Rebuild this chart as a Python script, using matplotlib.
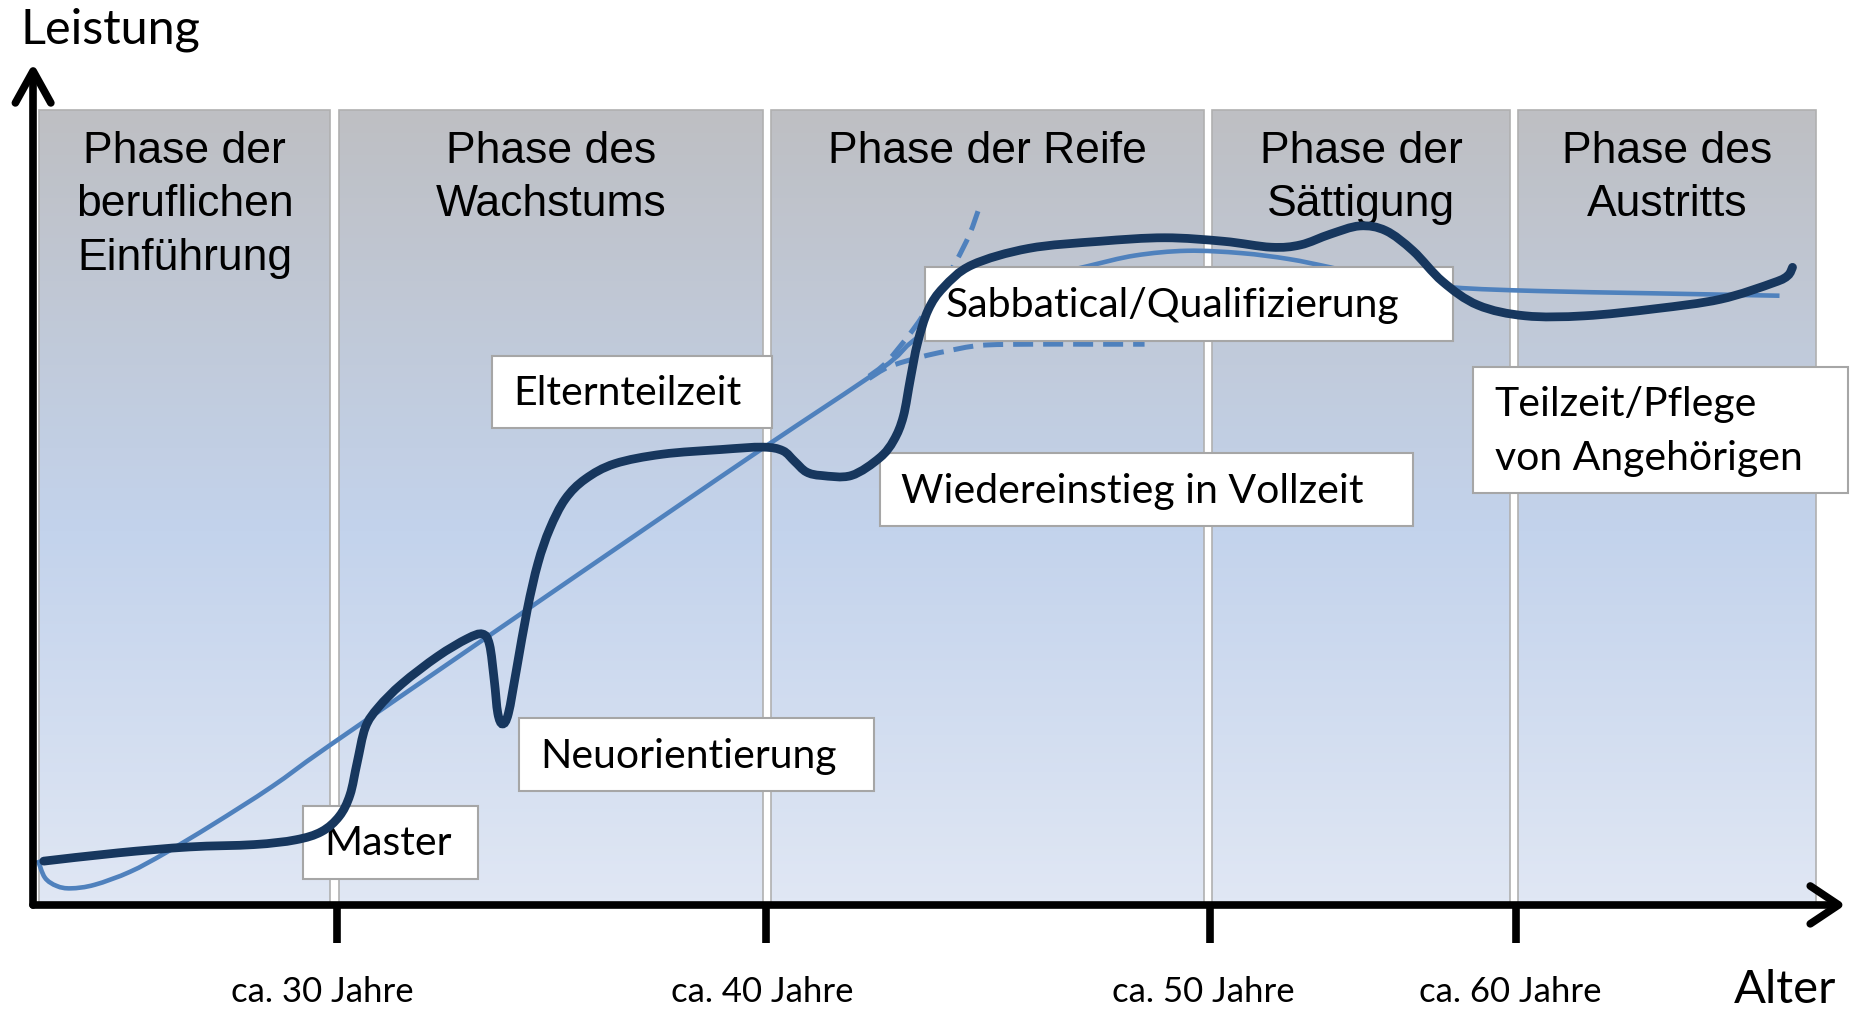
import numpy as np
import matplotlib.pyplot as plt
from matplotlib.path import Path
from matplotlib.patches import PathPatch, Rectangle
from matplotlib.colors import LinearSegmentedColormap

# drawing units: pixels of a 1568 x 853 sketch, y grows downwards
W, H = 1568, 853

# ---------------------------------------------------------------
# Data
# ---------------------------------------------------------------
phase_lines = [
    ["Phase der", "beruflichen", "Einführung"],
    ["Phase des", "Wachstums"],
    ["Phase der Reife"],
    ["Phase der", "Sättigung"],
    ["Phase des", "Austritts"],
]
phase_left = [33, 287, 652, 1025, 1284]
phase_right = [279, 645, 1018, 1277, 1536]

tick_x = [285, 648, 1023, 1282]
tick_labels = ["ca. 30 Jahre", "ca. 40 Jahre", "ca. 50 Jahre", "ca. 60 Jahre"]
tick_label_x = [273, 645, 1018, 1277]

# individual career curve (dark)
career_x = [37, 100, 160, 215, 250, 272, 287, 296, 302, 309, 320, 340, 370,
            395, 408, 414, 418, 421, 425, 430, 437, 446, 455, 465, 478, 495,
            520, 560, 610, 645, 662, 672, 682, 695, 720, 744, 756, 764, 770,
            776, 785, 798, 822, 870, 930, 985, 1035, 1075, 1100, 1125, 1150,
            1172, 1195, 1220, 1250, 1290, 1340, 1400, 1455, 1500, 1512, 1516]
career_y = [728, 721, 716, 714, 710, 703, 690, 672, 645, 615, 598, 578, 555,
            540, 536, 545, 575, 603, 612, 603, 565, 515, 476, 447, 422, 405,
            392, 384, 380, 378, 381, 390, 399, 402, 402, 387, 372, 352, 320,
            290, 262, 243, 224, 210, 204, 201, 204, 209, 207, 198, 191,
            195, 212, 238, 258, 267, 267, 261, 253, 239, 233, 226]

# typical performance curve (light, solid)
trend_x = [32, 38, 48, 60, 80, 110, 140, 180, 230, 279, 420, 560, 648, 745,
           770, 800, 840, 880, 920, 960, 1004, 1050, 1090, 1125, 1170, 1229,
           1300, 1400, 1505]
trend_y = [727, 742, 749, 751, 748, 737, 721, 697, 665, 630, 533, 437, 377,
           312, 290, 268, 248, 235, 225, 216, 212, 214, 219, 226, 236, 243,
           246, 248, 250]

# alternative continuations (dashed)
steep_x = [735, 750, 772, 790, 808, 820, 828]
steep_y = [318, 306, 279, 252, 222, 198, 176]
flat_x = [735, 752, 778, 800, 829, 870, 920, 968]
flat_y = [320, 310, 302, 297, 292, 291, 291, 291]

event_labels = [["Master"], ["Neuorientierung"], ["Elternteilzeit"],
                ["Wiedereinstieg in Vollzeit"], ["Sabbatical/Qualifizierung"],
                ["Teilzeit/Pflege", "von Angehörigen"]]
event_boxes = [(256, 681, 404, 743), (439, 607, 739, 669), (416, 301, 653, 362),
               (744, 383, 1195, 445), (782, 226, 1229, 288), (1246, 310, 1563, 417)]

DARK = "#17375e"
LIGHT = "#4f81bd"
LABEL_FONT = ["Lato", "DejaVu Sans"]


def smooth_path(xs, ys):
    """Catmull-Rom through the points, handed to matplotlib as cubic Beziers."""
    p = np.column_stack([xs, ys]).astype(float)
    p = np.vstack([p[0], p, p[-1]])
    verts = [p[1]]
    codes = [Path.MOVETO]
    for i in range(1, len(p) - 2):
        c1 = p[i] + (p[i + 1] - p[i - 1]) / 6.0
        c2 = p[i + 1] - (p[i + 2] - p[i]) / 6.0
        verts += [c1, c2, p[i + 1]]
        codes += [Path.CURVE4] * 3
    return Path(verts, codes)


fig = plt.figure(figsize=(18.54, 10.09), dpi=100)
ax = fig.add_axes([0, 0, 1, 1])
ax.set_xlim(0, W)
ax.set_ylim(H, 0)
ax.axis("off")

# phase panels with gray -> blue gradient
cmap = LinearSegmentedColormap.from_list(
    "phase", [(0, "#bebfc3"), (0.53, "#c3d3ec"), (1, "#e0e7f4")])
grad = np.linspace(0, 1, 256).reshape(-1, 1)
top, bottom = 93, 763
for x0, x1, lines in zip(phase_left, phase_right, phase_lines):
    ax.imshow(grad, cmap=cmap, extent=(x0, x1, bottom, top), origin="upper",
              aspect="auto", zorder=1, interpolation="bilinear")
    ax.add_patch(Rectangle((x0, top), x1 - x0, bottom - top, fill=False,
                           edgecolor="#b0b0b0", lw=1.2, zorder=1.5))
    for k, line in enumerate(lines):
        ax.text((x0 + x1) / 2, 138 + 45 * k, line, ha="center", va="baseline",
                fontsize=32, family="Liberation Sans", color="black", zorder=2)

# light curves
ax.add_patch(PathPatch(smooth_path(trend_x, trend_y), fill=False,
                       edgecolor=LIGHT, lw=3.3, zorder=3))
for xs, ys in [(steep_x, steep_y), (flat_x, flat_y)]:
    ax.add_patch(PathPatch(smooth_path(xs, ys), fill=False, edgecolor=LIGHT,
                           lw=3.6, linestyle=(0, (4, 2)), zorder=3))

# event boxes
for (x0, y0, x1, y1), lines in zip(event_boxes, event_labels):
    ax.add_patch(Rectangle((x0, y0), x1 - x0, y1 - y0, facecolor="white",
                           edgecolor="#a6a6a6", lw=1.5, zorder=4))
    cy = (y0 + y1) / 2 - 22.5 * (len(lines) - 1)
    for k, line in enumerate(lines):
        ax.text(x0 + 18, cy + 11 + 45 * k, line, ha="left", va="baseline",
                fontsize=29.5, family=LABEL_FONT, color="black", zorder=4.5)

# career curve on top
ax.add_patch(PathPatch(smooth_path(career_x, career_y), fill=False,
                       edgecolor=DARK, lw=6.3, capstyle="round", zorder=5))

# axes with open arrow heads
axis_kw = dict(color="black", lw=5.5, solid_capstyle="round",
               solid_joinstyle="round", zorder=6)
ax.plot([28, 28], [765, 62], **axis_kw)
ax.plot([13, 28, 43], [87, 60, 87], **axis_kw)
ax.plot([28, 1553], [765, 765], **axis_kw)
ax.plot([1531, 1555, 1531], [749, 765, 781], **axis_kw)
for tx in tick_x:
    ax.plot([tx, tx], [765, 797], color="black", lw=5.5, solid_capstyle="butt",
            zorder=6)
for lx, lab in zip(tick_label_x, tick_labels):
    ax.text(lx, 847, lab, ha="center", va="baseline", fontsize=25,
            family=LABEL_FONT, zorder=6)

ax.text(17, 37, "Leistung", ha="left", va="baseline", fontsize=35,
        family=LABEL_FONT)
ax.text(1553, 848, "Alter", ha="right", va="baseline", fontsize=34,
        family=LABEL_FONT)

fig.savefig("out.png", dpi=100)
